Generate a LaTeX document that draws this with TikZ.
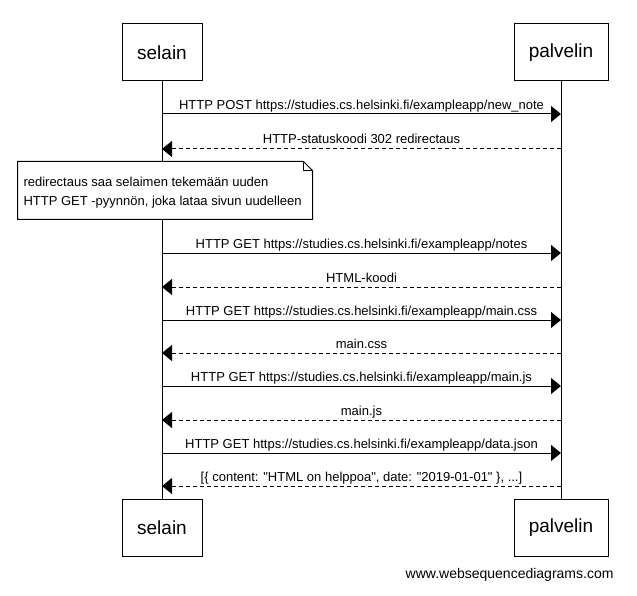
\documentclass[tikz,border=0pt]{standalone}
\usepackage{fontspec}
% plain family without TeX ligatures, so " stays a straight quote
\newfontfamily\arial{Liberation Sans}
\usetikzlibrary{arrows.meta}
\begin{document}
\begin{tikzpicture}[x=1pt,y=-1pt,
  line width=1pt,
  every node/.style={font=\arial},
  actor/.style={draw,fill=white,inner sep=0pt,minimum height=57pt,
    font=\arial\fontsize{19}{22}\selectfont},
  msglabel/.style={anchor=base,inner sep=0pt,font=\arial\fontsize{13}{15}\selectfont},
  notelabel/.style={anchor=base west,inner sep=0pt,font=\arial\fontsize{13}{15}\selectfont},
  req/.style={-{Triangle[length=10pt,width=16pt]}},
  resp/.style={-{Triangle[length=10pt,width=16pt]},dash pattern=on 4pt off 3pt},
  lifeline/.style={line width=1pt}]
\useasboundingbox (0,0) rectangle (637,596);

% participants, top and bottom
\node[actor,minimum width=80pt] (selTop) at (162,52.5) {selain};
\node[actor,minimum width=94pt] (palTop) at (561,52.5) {palvelin};
\node[actor,minimum width=80pt] (selBot) at (162,527.5) {selain};
\node[actor,minimum width=94pt] (palBot) at (561,527.5) {palvelin};

% lifelines
\draw[lifeline] (selTop.south) -- (selBot.north);
\draw[lifeline] (palTop.south) -- (palBot.north);

% message end points on the lifelines
\foreach \n/\y in {1/114,2/149,3/253,4/287,5/320,6/353,7/386,8/420,9/453,10/486}{
  \coordinate (s\n) at (162,\y);
  \coordinate (p\n) at (561,\y);
}

% messages
\draw[req]  (s1) -- (p1);
\node[msglabel] (m1) at (361.5,110) {HTTP POST https://studies.cs.helsinki.fi/exampleapp/new\_note};
\draw[resp] (p2) -- (s2);
\node[msglabel] (m2) at (361.5,144) {HTTP-statuskoodi 302 redirectaus};

% note over the browser lifeline
\node[minimum width=294pt,minimum height=57pt,inner sep=0pt] (note) at (165,190.5) {};
\filldraw[fill=white,line width=1pt]
  (note.north west) -- ([xshift=-9pt]note.north east) -- ([yshift=-9pt]note.north east)
  -- (note.south east) -- (note.south west) -- cycle;
\draw[line width=1pt] ([xshift=-9pt]note.north east) -- ([xshift=-9pt,yshift=-9pt]note.north east)
  -- ([yshift=-9pt]note.north east);
\node[notelabel] (noteA) at (23,187) {redirectaus saa selaimen tekemään uuden};
\node[notelabel] (noteB) at (23,206) {HTTP GET -pyynnön, joka lataa sivun uudelleen};

\draw[req]  (s3) -- (p3);
\node[msglabel] (m3) at (361.5,248) {HTTP GET https://studies.cs.helsinki.fi/exampleapp/notes};
\draw[resp] (p4) -- (s4);
\node[msglabel] (m4) at (361.5,282) {HTML-koodi};
\draw[req]  (s5) -- (p5);
\node[msglabel] (m5) at (361.5,315) {HTTP GET https://studies.cs.helsinki.fi/exampleapp/main.css};
\draw[resp] (p6) -- (s6);
\node[msglabel] (m6) at (361.5,348) {main.css};
\draw[req]  (s7) -- (p7);
\node[msglabel] (m7) at (361.5,381) {HTTP GET https://studies.cs.helsinki.fi/exampleapp/main.js};
\draw[resp] (p8) -- (s8);
\node[msglabel] (m8) at (361.5,415) {main.js};
\draw[req]  (s9) -- (p9);
\node[msglabel] (m9) at (361.5,448) {HTTP GET https://studies.cs.helsinki.fi/exampleapp/data.json};
\draw[resp] (p10) -- (s10);
\node[msglabel] (m10) at (361.5,481) {[\{ content: "HTML on helppoa", date: "2019-01-01" \}, ...]};

% watermark
\node[anchor=base east,inner sep=0pt,font=\arial\fontsize{14}{16}\selectfont] (wm) at (614,578) {www.websequencediagrams.com};
\end{tikzpicture}
\end{document}
